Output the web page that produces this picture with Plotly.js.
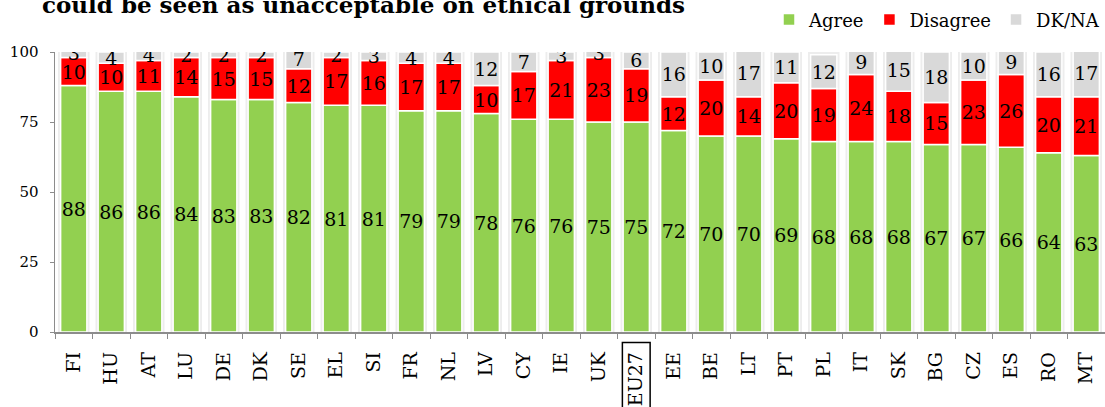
<!DOCTYPE html>
<html>
<head>
<meta charset="utf-8">
<script src="https://cdn.plot.ly/plotly-3.0.1.min.js"></script>
<style>
html,body{margin:0;padding:0;background:#fff;}
#chart{width:1105px;height:407px;}
</style>
</head>
<body>
<div id="chart"></div>
<script>
const categories = ["FI","HU","AT","LU","DE","DK","SE","EL","SI","FR","NL","LV","CY","IE","UK","EU27","EE","BE","LT","PT","PL","IT","SK","BG","CZ","ES","RO","MT"];
const agree    = [88,86,86,84,83,83,82,81,81,79,79,78,76,76,75,75,72,70,70,69,68,68,68,67,67,66,64,63];
const disagree = [10,10,11,14,15,15,12,17,16,17,17,10,17,21,23,19,12,20,14,20,19,24,18,15,23,26,20,21];
const dkna     = [3,4,4,2,2,2,7,2,3,4,4,12,7,3,3,6,16,10,17,11,12,9,15,18,10,9,16,17];
const yTicks   = [0,25,50,75,100];
const titleText = "could be seen as unacceptable on ethical grounds";

const serif = "'DejaVu Serif', Georgia, serif";
const labelFont = {family: serif, size: 19, color: "#000"};
const BW = 0.70;

const baseDis = agree.map(v=>v);
const baseDk = agree.map((v,i)=>v+disagree[i]);
const full = categories.map(()=>yTicks[yTicks.length-1]);

const common = {
  type: "bar", x: categories, width: BW,
  textposition: "inside", insidetextanchor: "middle", textangle: 0,
  textfont: labelFont, constraintext: "none",
  hoverinfo: "x+y"
};

const traces = [
  {type:"bar", x: categories, y: full, base: 0, width: 0.84, showlegend:false, hoverinfo:"skip",
   marker:{color:"rgba(0,0,0,0.07)", line:{width:0}}},
  Object.assign({}, common, {name:"Agree", y: agree, base: 0, text: agree.map(String),
    marker:{color:"#92D050", line:{color:"#ffffff", width:1.5}}}),
  Object.assign({}, common, {name:"Disagree", y: disagree, base: baseDis, text: disagree.map(String),
    marker:{color:"#FF0000", line:{color:"#ffffff", width:1.5}}}),
  Object.assign({}, common, {name:"DK/NA", y: dkna, base: baseDk, text: dkna.map(String),
    marker:{color:"#D9D9D9", line:{color:"#ffffff", width:1.5}}})
];

const eu = categories.indexOf("EU27");

const layout = {
  width: 1105, height: 407,
  margin: {l: 55, r: 0, t: 52, b: 75, pad: 0},
  paper_bgcolor: "#fff", plot_bgcolor: "#fff",
  barmode: "overlay",
  showlegend: true,
  uniformtext: {mode: "show", minsize: 19},
  title: {text: "<b>" + titleText + "</b>", font: {family: serif, size: 23, color: "#000"},
          x: 42/1105, xanchor: "left", xref: "container", yref: "container", y: 0.987, yanchor: "middle"},
  legend: {orientation: "h", x: 1, xanchor: "right", y: 1.115, yanchor: "middle",
           font: {family: serif, size: 18, color: "#000"}, traceorder: "normal",
           itemwidth: 30, bgcolor: "rgba(0,0,0,0)"},
  xaxis: {type: "category", tickangle: -90, tickfont: {family: serif, size: 19, color: "#000"},
          showline: true, linecolor: "#8c8c8c", linewidth: 1.5, ticks: "outside", tickson: "boundaries",
          ticklen: 5, tickcolor: "#8c8c8c", ticklabelstandoff: 11,
          showgrid: false, zeroline: false, fixedrange: true},
  yaxis: {range: [0, 100], tickvals: yTicks, ticktext: yTicks.map(String), tickfont: {family: serif, size: 15, color: "#000"},
          showline: true, linecolor: "#8c8c8c", linewidth: 1.5, ticks: "outside", ticklen: 4, tickcolor: "#8c8c8c",
          ticklabelstandoff: 8, showgrid: false, zeroline: false, fixedrange: true},
  shapes: [{type: "rect", xref: "x", yref: "paper", x0: eu - 0.37, x1: eu + 0.37,
            y0: -0.32, y1: -0.0375, line: {color: "#000", width: 1.5}, fillcolor: "rgba(0,0,0,0)"}]
};

Plotly.newPlot("chart", traces, layout, {displayModeBar: false, staticPlot: true});
</script>
</body>
</html>
